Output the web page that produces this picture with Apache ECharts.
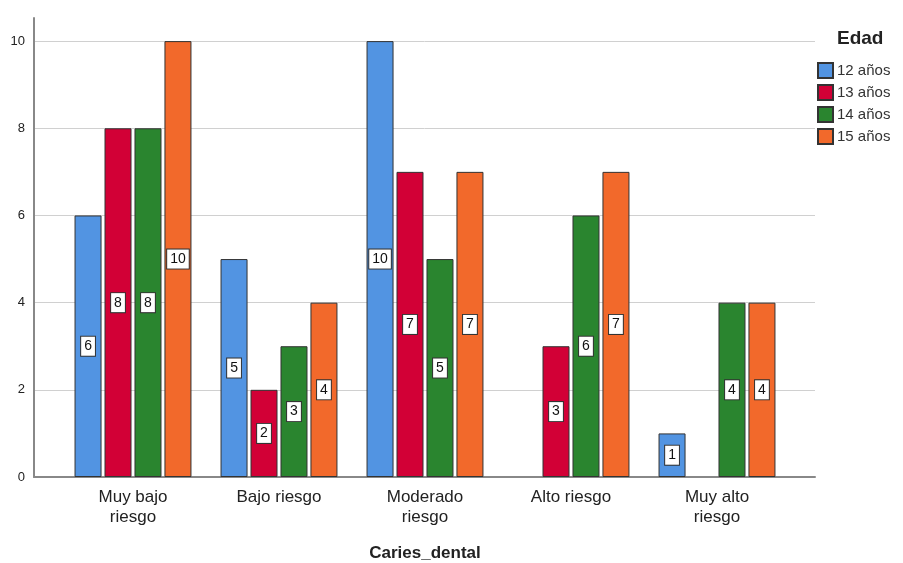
<!DOCTYPE html>
<html><head><meta charset="utf-8">
<script src="https://cdn.jsdelivr.net/npm/echarts@6/dist/echarts.min.js"></script>
<style>html,body{margin:0;padding:0;background:#fff}#c{width:903px;height:563px}</style>
</head><body><div id="c"></div>
<script>
const categories = ["Muy bajo\nriesgo", "Bajo riesgo", "Moderado\nriesgo", "Alto riesgo", "Muy alto\nriesgo"];
const seriesNames = ["12 años", "13 años", "14 años", "15 años"];
const edad12 = [6, 5, 10, null, 1];
const edad13 = [8, 2, 7, 3, null];
const edad14 = [8, 3, 5, 6, 4];
const edad15 = [10, 4, 7, 7, 4];
const yTicks = [0, 2, 4, 6, 8, 10];
const colors = ["#5294e2", "#d20036", "#2a852f", "#f2692b"];
const values = [edad12, edad13, edad14, edad15];

const chart = echarts.init(document.getElementById('c'));
const font = "Arial, 'Liberation Sans', sans-serif";
chart.setOption({
  animation: false,
  textStyle: { fontFamily: font },
  title: { text: 'Edad', left: 832, top: 24, textStyle: { fontSize: 19, fontWeight: 'bold', color: '#222', fontFamily: font } },
  legend: {
    data: seriesNames, orient: 'vertical', left: 812, top: 57, icon: 'rect',
    itemWidth: 15, itemHeight: 15, itemGap: 5,
    textStyle: { fontSize: 15, color: '#333', fontFamily: font, padding: [0, 0, 0, -1] }
  },
  grid: [
    { left: 34, right: 88, top: 18, bottom: 86, outerBoundsMode: 'none', containLabel: false },
    { left: 60, right: 113, top: 18, bottom: 86, outerBoundsMode: 'none', containLabel: false }
  ],
  xAxis: [
    { gridIndex: 0, type: 'value', min: 0, max: 1, axisLine: { show: true, onZero: false, lineStyle: { color: '#888', width: 2 } },
      axisLabel: { show: false }, axisTick: { show: false }, splitLine: { show: false } },
    { gridIndex: 1, type: 'category', data: categories, axisLine: { show: false }, axisTick: { show: false },
      axisLabel: { fontSize: 17, color: '#222', lineHeight: 20, margin: 10, interval: 0, fontFamily: font },
      name: 'Caries_dental', nameLocation: 'middle', nameGap: 68,
      nameTextStyle: { fontSize: 17, fontWeight: 'bold', color: '#222', fontFamily: font } }
  ],
  yAxis: [
    { gridIndex: 0, type: 'value', min: 0, max: 10.53, interval: 2,
      axisLine: { show: true, lineStyle: { color: '#888', width: 2 } }, axisTick: { show: false },
      axisLabel: { showMaxLabel: false, fontSize: 13, color: '#222', margin: 9, fontFamily: font,
        formatter: v => yTicks.includes(v) ? String(v) : '' },
      splitLine: { show: true, showMaxLine: false, showMinLine: false, lineStyle: { color: '#d0d0d0', width: 1 } } },
    { gridIndex: 1, type: 'value', min: 0, max: 10.53, show: false, splitLine: { show: false } }
  ],
  series: seriesNames.map((n, i) => ({
    name: n, type: 'bar', xAxisIndex: 1, yAxisIndex: 1,
    data: values[i], barWidth: 27, barGap: '11%',
    itemStyle: { color: colors[i], borderColor: '#333', borderWidth: 1 },
    label: { show: true, position: 'inside', color: '#111', fontSize: 14, fontFamily: font,
      backgroundColor: '#fff', borderColor: '#333', borderWidth: 1, padding: [3, 3, 2, 3] }
  }))
});
</script></body></html>
